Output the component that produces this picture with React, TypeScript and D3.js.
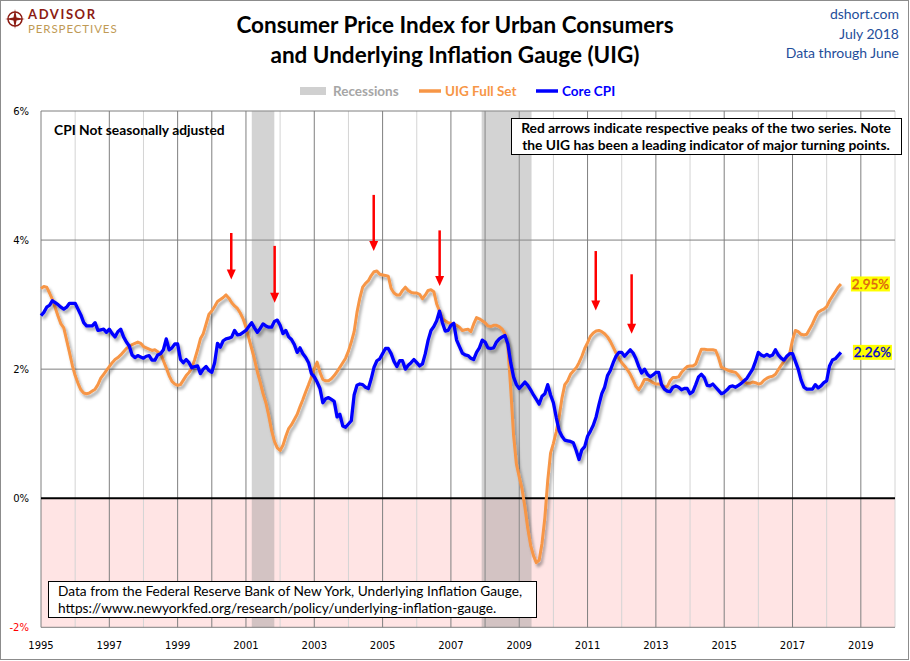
import React from "react";
import * as d3 from "d3";

const W = 910;
const H = 661;
const START_YEAR = 1995;

// UIG Full Set, monthly from Jan 1995 to Jun 2018 (%)
const uig: number[] = [
  3.25, 3.28, 3.27, 3.18, 3.08, 2.95, 2.82, 2.7, 2.64, 2.45, 2.26, 2.06,
  1.9, 1.78, 1.68, 1.63, 1.62, 1.63, 1.66, 1.69, 1.76, 1.86, 1.92, 1.98,
  2.04, 2.1, 2.15, 2.18, 2.22, 2.27, 2.32, 2.35, 2.38, 2.4, 2.42, 2.4,
  2.35, 2.33, 2.31, 2.29, 2.3, 2.27, 2.24, 2.13, 2.02, 1.9, 1.81, 1.77,
  1.75, 1.76, 1.83, 1.9, 1.95, 2.02, 2.15, 2.3, 2.47, 2.55, 2.7, 2.85,
  2.9, 2.97, 3.05, 3.08, 3.11, 3.15, 3.1, 3.03, 2.98, 2.94, 2.87, 2.78,
  2.65, 2.48, 2.32, 2.15, 1.96, 1.8, 1.62, 1.48, 1.28, 1.05, 0.88, 0.78,
  0.74, 0.82, 0.96, 1.08, 1.14, 1.22, 1.3, 1.42, 1.53, 1.65, 1.76, 1.88,
  2.0, 2.11, 1.95, 1.84, 1.82, 1.82, 1.85, 1.9, 1.96, 2.03, 2.1, 2.17,
  2.28, 2.42, 2.58, 2.88, 3.1, 3.27, 3.33, 3.37, 3.45, 3.51, 3.52, 3.47,
  3.46, 3.45, 3.44, 3.25, 3.18, 3.15, 3.15, 3.22, 3.27, 3.22, 3.19, 3.18,
  3.18, 3.16, 3.09, 3.15, 3.22, 3.23, 3.2, 3.01, 2.9, 2.78, 2.75, 2.72,
  2.71, 2.7, 2.68, 2.65, 2.6, 2.61, 2.62, 2.58, 2.7, 2.8, 2.78, 2.75,
  2.72, 2.67, 2.66, 2.68, 2.68, 2.66, 2.62, 2.55, 2.35, 1.7, 0.98, 0.53,
  0.33, 0.14, -0.14, -0.47, -0.73, -0.89, -1.0, -0.96, -0.7, -0.3, 0.27, 0.7,
  0.85, 1.03, 1.25, 1.55, 1.76, 1.82, 1.92, 1.97, 2.02, 2.1, 2.2, 2.32,
  2.41, 2.51, 2.56, 2.59, 2.6, 2.58, 2.55, 2.5, 2.43, 2.34, 2.25, 2.17,
  2.1, 2.05, 1.99, 1.92, 1.83, 1.73, 1.68, 1.75, 1.84, 1.84, 1.82, 1.79,
  1.77, 1.77, 1.76, 1.72, 1.73, 1.82, 1.87, 1.87, 1.88, 1.95, 2.0, 2.04,
  2.05, 2.05, 2.08, 2.2, 2.31, 2.31, 2.3, 2.3, 2.3, 2.29, 2.18, 2.03,
  2.01, 1.99, 1.97, 1.96, 1.95, 1.9, 1.84, 1.81, 1.78, 1.78, 1.8, 1.79,
  1.77, 1.78, 1.83, 1.86, 1.88, 1.89, 1.92, 1.99, 2.06, 2.12, 2.18, 2.24,
  2.45, 2.6, 2.58, 2.54, 2.53, 2.54, 2.62, 2.7, 2.8, 2.88, 2.91, 2.93,
  2.97, 3.06, 3.13, 3.2, 3.27, 3.32,
];

// Core CPI (not seasonally adjusted), monthly from Jan 1995 to Jun 2018 (%)
const coreCpi: number[] = [
  2.83, 2.88, 2.96, 2.99, 3.06, 3.03, 3.0, 2.96, 2.93, 2.96, 3.02, 3.02,
  3.02, 2.93, 2.84, 2.72, 2.67, 2.67, 2.67, 2.72, 2.6, 2.61, 2.62, 2.57,
  2.62, 2.55, 2.5, 2.58, 2.62, 2.5, 2.42, 2.36, 2.22, 2.18, 2.21, 2.19,
  2.17, 2.2, 2.21, 2.14, 2.14, 2.22, 2.24, 2.3, 2.47, 2.3, 2.33, 2.39,
  2.39, 2.15, 2.1, 2.15, 2.1, 2.02, 2.04, 2.05, 1.93, 2.0, 2.04, 1.98,
  1.95, 2.1, 2.4, 2.34, 2.44, 2.47, 2.48, 2.5, 2.6, 2.53, 2.54, 2.57,
  2.6, 2.66, 2.72, 2.64, 2.57, 2.63, 2.7, 2.67, 2.65, 2.65, 2.74, 2.76,
  2.68, 2.55, 2.6, 2.5, 2.46, 2.38, 2.26, 2.33, 2.24, 2.18, 2.1, 1.93,
  1.88, 1.8, 1.7, 1.48, 1.54, 1.56, 1.53, 1.5, 1.26, 1.3, 1.12, 1.1,
  1.15, 1.2, 1.6, 1.75, 1.77, 1.76, 1.72, 1.7, 1.85, 2.03, 2.13, 2.16,
  2.24, 2.32, 2.32, 2.24, 2.12, 2.04, 2.13, 2.13, 2.0, 2.06, 2.1, 2.15,
  2.1, 2.05, 2.08, 2.24, 2.45, 2.6, 2.66, 2.75, 2.9, 2.72, 2.59, 2.6,
  2.68, 2.71, 2.45, 2.35, 2.25, 2.22, 2.21, 2.17, 2.15, 2.26, 2.33, 2.45,
  2.42, 2.33, 2.32, 2.33, 2.42, 2.47, 2.5, 2.52, 2.39, 2.1, 1.88, 1.76,
  1.7, 1.75, 1.8, 1.75, 1.68, 1.6, 1.53, 1.46, 1.58, 1.62, 1.76, 1.6,
  1.48, 1.25, 1.05, 0.96, 0.9, 0.89, 0.88, 0.86, 0.74, 0.6, 0.75, 0.8,
  0.96, 1.04, 1.13, 1.26, 1.45, 1.62, 1.72, 1.9, 1.98, 2.1, 2.2, 2.26,
  2.26, 2.2, 2.25, 2.3, 2.25, 2.16, 2.04, 1.94, 2.0, 1.92, 1.88, 1.91,
  1.95, 1.95, 1.76, 1.69, 1.66, 1.65, 1.72, 1.74, 1.72, 1.68, 1.7, 1.7,
  1.62, 1.65, 1.76, 1.88, 1.92, 1.87, 1.75, 1.74, 1.77, 1.72, 1.67, 1.62,
  1.64, 1.68, 1.73, 1.74, 1.72, 1.75, 1.78, 1.82, 1.86, 1.93, 2.0, 2.12,
  2.26, 2.22, 2.2, 2.23, 2.2, 2.22, 2.3, 2.22, 2.17, 2.14, 2.2, 2.24,
  2.24, 2.12, 2.0, 1.83, 1.72, 1.69, 1.69, 1.69, 1.76, 1.71, 1.74, 1.79,
  1.82, 2.05, 2.14, 2.16, 2.21, 2.26,
];

const recessions: [number, number][] = [
  [2001.17, 2001.83],
  [2007.9, 2009.36],
];

// Red arrows: [year, top value, tip value]
const arrows: [number, number, number][] = [
  [2000.57, 4.11, 3.39],
  [2001.84, 3.91, 3.03],
  [2004.74, 4.7, 3.83],
  [2006.67, 4.15, 3.29],
  [2011.24, 3.83, 2.91],
  [2012.29, 3.47, 2.55],
];

const yTicks = [6, 4, 2, 0, -2];
const xLabelYears = d3.range(1995, 2020, 2);
const gridYears = d3.range(1996, 2021);
const darkGridYears = [1997, 1999, 2000, 2001, 2003, 2005, 2007, 2008, 2009, 2011, 2013, 2015, 2017, 2019];

const lastUigLabel = "2.95%";
const lastCoreLabel = "2.26%";

const CAL = "Lato, 'Open Sans', 'Noto Sans', sans-serif";
const TAH = "'DejaVu Sans', Verdana, sans-serif";

export default function App() {
  const x = d3.scaleLinear().domain([1995, 2020]).range([41, 895]);
  const y = d3.scaleLinear().domain([-2, 6]).range([627.3, 111]);
  const t = (i: number) => START_YEAR + i / 12;

  const line = d3
    .line<number>()
    .x((_, i) => x(t(i)))
    .y((d) => y(d))
    .curve(d3.curveLinear);

  const uigPath = line(uig) || "";
  const corePath = line(coreCpi) || "";

  const lastUig = uig[uig.length - 1];
  const lastCore = coreCpi[coreCpi.length - 1];
  const lastX = x(t(uig.length - 1));

  const x0 = x(1995);
  const x1 = x(2020);

  return (
    <div style={{ position: "absolute", left: 0, top: 0 }}>
      <svg width={W} height={H} viewBox={`0 0 ${W} ${H}`} style={{ display: "block" }}>
        <defs>
          <filter id="shadow" filterUnits="userSpaceOnUse" x={0} y={0} width={W} height={H}>
            <feDropShadow dx={2} dy={3} stdDeviation={1.6} floodColor="#000" floodOpacity={0.35} />
          </filter>
        </defs>
        <rect x={0} y={0} width={W} height={H} fill="#fff" />
        <rect x={0.5} y={0.5} width={W - 2} height={H - 2} fill="none" stroke="#8c8c8c" strokeWidth={1} />

        {/* negative region */}
        <rect x={x0} y={y(0)} width={x1 - x0} height={y(-2) - y(0)} fill="#FFE4E4" />

        {/* vertical gridlines */}
        {gridYears.map((yr) => (
          <line
            key={yr}
            x1={x(yr)}
            x2={x(yr)}
            y1={y(6)}
            y2={y(-2)}
            stroke={darkGridYears.includes(yr) ? "#7f7f7f" : "#d4d4d4"}
            strokeWidth={1}
          />
        ))}
        {/* horizontal gridlines */}
        {[6, 4, 2].map((v) => (
          <line key={v} x1={x0} x2={x1} y1={y(v)} y2={y(v)} stroke="#7f7f7f" strokeWidth={1} />
        ))}

        {/* recessions */}
        {recessions.map(([s, e], i) => (
          <rect key={i} x={x(s)} y={y(6)} width={x(e) - x(s)} height={y(-2) - y(6)} fill="#969696" opacity={0.42} />
        ))}

        {/* axes */}
        <line x1={x0} x2={x0} y1={y(6)} y2={y(-2)} stroke="#7f7f7f" strokeWidth={1} />
        <line x1={x0} x2={x1} y1={y(-2)} y2={y(-2)} stroke="#7f7f7f" strokeWidth={1} />
        <line x1={x0} x2={x1} y1={y(0)} y2={y(0)} stroke="#000" strokeWidth={2} />

        {/* y tick labels */}
        {yTicks.map((v) => (
          <text
            key={v}
            x={29}
            y={y(v)}
            dy="0.35em"
            textAnchor="end"
            fontFamily={TAH}
            fontSize={10}
            fill={v < 0 ? "#ff0000" : "#000"}
          >
            {`${v}%`}
          </text>
        ))}
        {/* x tick labels */}
        {xLabelYears.map((yr) => (
          <text key={yr} x={x(yr)} y={649} textAnchor="middle" fontFamily={TAH} fontSize={10} fill="#000">
            {yr}
          </text>
        ))}

        {/* series */}
        <path d={uigPath} fill="none" stroke="#F79646" strokeWidth={3} strokeLinejoin="round" filter="url(#shadow)" />
        <path d={corePath} fill="none" stroke="#0000FF" strokeWidth={3.3} strokeLinejoin="round" filter="url(#shadow)" />

        {/* arrows */}
        {arrows.map(([yr, top, tip], i) => {
          const ax = x(yr);
          const yt = y(top);
          const yp = y(tip);
          return (
            <g key={i}>
              <line x1={ax} x2={ax} y1={yt} y2={yp - 8} stroke="#FF0000" strokeWidth={2.5} />
              <path d={`M${ax - 4.5},${yp - 10} L${ax + 4.5},${yp - 10} L${ax},${yp} Z`} fill="#FF0000" />
            </g>
          );
        })}

        {/* end labels */}
        <rect x={lastX + 10} y={y(lastUig) - 7.5} width={39} height={15} fill="#FFFF00" />
        <text x={lastX + 29.5} y={y(lastUig)} dy="0.36em" textAnchor="middle" fontFamily={CAL} fontSize={13.5} fill="#F26B1D" stroke="#c04a00" strokeWidth={0.3}>
          {lastUigLabel}
        </text>
        <rect x={lastX + 12} y={y(lastCore) - 7.5} width={39} height={15} fill="#FFFF00" />
        <text x={lastX + 31.5} y={y(lastCore)} dy="0.36em" textAnchor="middle" fontFamily={CAL} fontSize={13.5} fill="#0000FF" stroke="#00008b" strokeWidth={0.3}>
          {lastCoreLabel}
        </text>

        {/* annotations */}
        <text x={54} y={134.5} fontFamily={CAL} fontWeight="bold" fontSize={13.8} fill="#000">
          CPI Not seasonally adjusted
        </text>
        <rect x={511.5} y={118.5} width={390} height={36} fill="#fff" stroke="#000" strokeWidth={1} />
        <text x={706} y={132.5} textAnchor="middle" fontFamily={CAL} fontWeight="bold" fontSize={13.8} fill="#000">
          Red arrows indicate respective peaks of the two series. Note
        </text>
        <text x={706} y={150} textAnchor="middle" fontFamily={CAL} fontWeight="bold" fontSize={13.8} fill="#000">
          the UIG has been a leading indicator of major turning points.
        </text>
        <rect x={48.5} y={581.5} width={488} height={36} fill="#fff" stroke="#000" strokeWidth={1} />
        <text x={58} y={596} fontFamily={CAL} fontSize={13.7} fill="#000">
          Data from the Federal Reserve Bank of New York, Underlying Inflation Gauge,
        </text>
        <text x={58} y={613} fontFamily={CAL} fontSize={13.7} fill="#000">
          https://www.newyorkfed.org/research/policy/underlying-inflation-gauge.
        </text>

        {/* title */}
        <text x={455} y={33} textAnchor="middle" fontFamily={CAL} fontWeight="bold" fontSize={22.5} fill="#000">
          Consumer Price Index for Urban Consumers
        </text>
        <text x={455} y={63} textAnchor="middle" fontFamily={CAL} fontWeight="bold" fontSize={22.5} fill="#000">
          and Underlying Inflation Gauge (UIG)
        </text>

        {/* top right */}
        <g fontFamily={CAL} fontSize={14} fill="#1F4E9A" textAnchor="end">
          <text x={899} y={18.5}>dshort.com</text>
          <text x={899} y={38.5}>July 2018</text>
          <text x={899} y={57.5}>Data through June</text>
        </g>

        {/* legend */}
        <rect x={300} y={87} width={26} height={8} fill="#D0D0D0" />
        <text x={333} y={95.5} fontFamily={CAL} fontWeight="bold" fontSize={13.5} fill="#A6A6A6">
          Recessions
        </text>
        <line x1={419} x2={441} y1={91} y2={91} stroke="#F79646" strokeWidth={3.5} />
        <text x={445} y={95.5} fontFamily={CAL} fontWeight="bold" fontSize={13.5} fill="#F79646">
          UIG Full Set
        </text>
        <line x1={536} x2={558} y1={91} y2={91} stroke="#0000FF" strokeWidth={3.5} />
        <text x={562} y={95.5} fontFamily={CAL} fontWeight="bold" fontSize={13.5} fill="#0000FF">
          Core CPI
        </text>

        {/* logo */}
        <g>
          <circle cx={15} cy={19} r={7} fill="none" stroke="#8C1C13" strokeWidth={1.5} />
          <path d="M15,9 L16.5,17.5 L25,19 L16.5,20.5 L15,29 L13.5,20.5 L5,19 L13.5,17.5 Z" fill="#8C1C13" />
          <text x={28} y={19} fontFamily={CAL} fontWeight="bold" fontSize={13} letterSpacing={1.6} fill="#8C1C13">
            ADVISOR
          </text>
          <text x={28} y={32.5} fontFamily={CAL} fontSize={11.5} fill="#C09A55" letterSpacing={0.9}>
            PERSPECTIVES
          </text>
        </g>
      </svg>
    </div>
  );
}
